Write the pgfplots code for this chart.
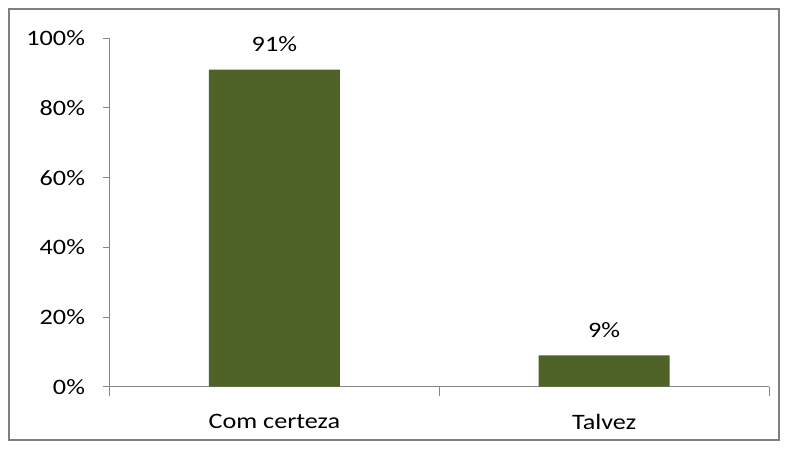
\documentclass[border=0pt]{standalone}
\usepackage{pgfplots}
\pgfplotsset{compat=1.18}
\usepackage{fontspec}
\setmainfont{Carlito}[FakeStretch=1.19]
\definecolor{barcol}{HTML}{4F6228}
\definecolor{axcol}{HTML}{868686}
\definecolor{bordcol}{HTML}{7F7F7F}
\begin{document}
\begin{tikzpicture}[x=1pt,y=1pt]
\path[use as bounding box,fill=white] (0,0) rectangle (787,448);
\draw[bordcol,line width=1.3pt] (9,8) rectangle (779,439);
\begin{axis}[
  at={(109.5pt,61.3pt)}, anchor=south west,
  scale only axis, width=659.5pt, height=348.4pt,
  font=\fontsize{22}{26}\selectfont,
  /pgf/number format/assume math mode=true,
  ybar, bar width=131pt,
  xmin=-0.5, xmax=1.5, ymin=0, ymax=100,
  xtick={0,1}, xticklabels={Com certeza,Talvez},
  major x tick style={draw=none},
  minor xtick={-0.5,0.5,1.5},
  minor x tick style={axcol,line width=1pt},
  minor tick length=9pt,
  ytick={0,20,40,60,80,100},
  yticklabel={\pgfmathprintnumber{\tick}\%},
  major tick length=6pt,
  tick align=outside,
  y tick style={axcol,line width=1pt},
  axis lines*=left,
  axis line style={axcol,line width=1pt,-},
  xticklabel style={yshift=-18pt},
  yticklabel style={xshift=-15pt},
  nodes near coords={\pgfmathprintnumber{\pgfplotspointmeta}\%},
  nodes near coords style={font=\fontsize{22}{26}\selectfont,anchor=south,yshift=14pt},
]
\addplot[fill=barcol,draw=none] coordinates {(0,91) (1,9)};
\end{axis}
\end{tikzpicture}
\end{document}
